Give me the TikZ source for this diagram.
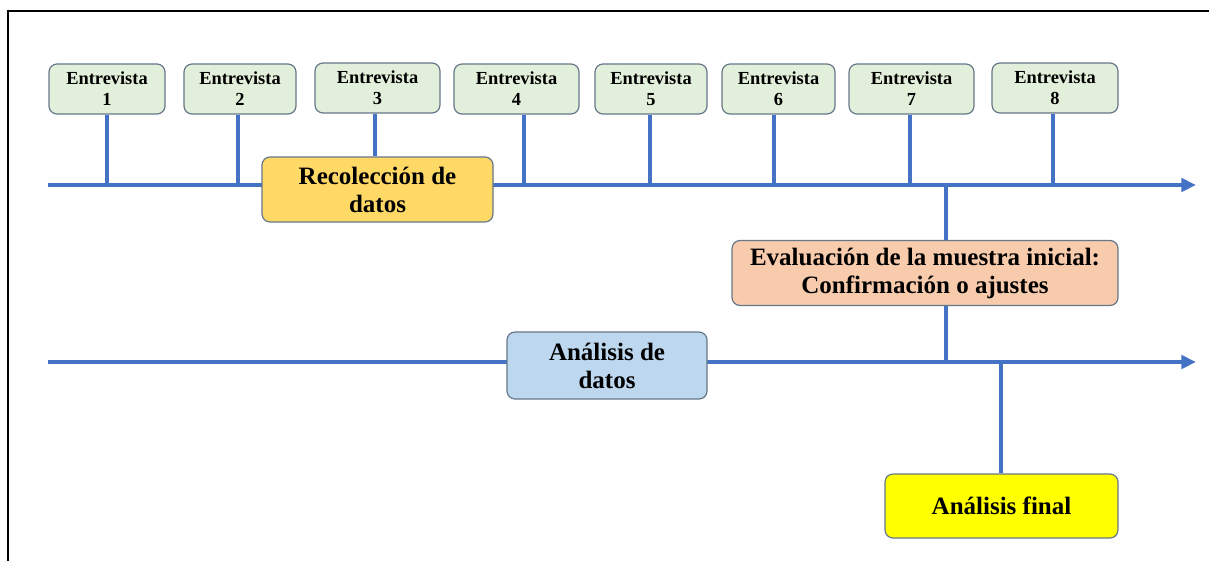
\documentclass[tikz,border=0pt]{standalone}
\usepackage{fontspec}
\setmainfont{Liberation Serif}[BoldFont={Liberation Serif Bold}]
\usetikzlibrary{arrows.meta}
\definecolor{lineblue}{HTML}{4472C4}
\definecolor{boxgray}{HTML}{66778A}
\definecolor{entgreen}{HTML}{E2EFDA}
\definecolor{recgold}{HTML}{FFD966}
\definecolor{evapeach}{HTML}{F8CBAD}
\definecolor{anablue}{HTML}{BDD7EE}
\definecolor{finyellow}{HTML}{FFFF00}

\begin{document}
\begin{tikzpicture}[x=0.75pt,y=-0.75pt,>={Triangle[length=11pt,width=10pt]},
  time line/.style={draw=lineblue,line width=3pt},
  base node/.style={rectangle,rounded corners=6pt,draw=boxgray,line width=0.9pt,align=center,inner sep=0pt},
  entrevista node/.style={base node,fill=entgreen,minimum height=37.5pt,font=\fontsize{13.8}{15.75}\selectfont\bfseries},
  fase node/.style={base node,minimum height=48.75pt,font=\fontsize{18.75}{21}\selectfont\bfseries}]

  \useasboundingbox (0,0) rectangle (1209,561);
  \draw[line width=1.5pt] (8,561) -- (8,11) -- (1209,11);

  % puntos sobre las lineas de tiempo
  \coordinate (a1) at (48,185);
  \coordinate (b1) at (1196,185);
  \coordinate (a2) at (48,362);
  \coordinate (b2) at (1196,362);
  \coordinate (t1) at (107,185);
  \coordinate (t2) at (238,185);
  \coordinate (t3) at (375,185);
  \coordinate (t4) at (524,185);
  \coordinate (t5) at (650,185);
  \coordinate (t6) at (774,185);
  \coordinate (t7) at (910,185);
  \coordinate (t8) at (1053,185);
  \coordinate (j1) at (946,185);
  \coordinate (j2) at (946,362);
  \coordinate (j3) at (1001,362);

  \draw[time line,->] (a1) -- (b1);
  \draw[time line,->] (a2) -- (b2);

  \node[entrevista node,minimum width=87pt]    (e1) at (107,89)   {Entrevista\\1};
  \node[entrevista node,minimum width=84pt]    (e2) at (240,89)   {Entrevista\\2};
  \node[entrevista node,minimum width=93.75pt] (e3) at (377.5,88) {Entrevista\\3};
  \node[entrevista node,minimum width=93.75pt] (e4) at (516.5,89) {Entrevista\\4};
  \node[entrevista node,minimum width=84pt]    (e5) at (651,89)   {Entrevista\\5};
  \node[entrevista node,minimum width=84.75pt] (e6) at (778.5,89) {Entrevista\\6};
  \node[entrevista node,minimum width=93.75pt] (e7) at (911.5,89) {Entrevista\\7};
  \node[entrevista node,minimum width=94.5pt]  (e8) at (1055,88)  {Entrevista\\8};

  \node[fase node,fill=recgold,minimum width=173.25pt]  (rec) at (377.5,189.5) {Recolección de\\datos};
  \node[fase node,fill=evapeach,minimum width=289.5pt]  (eva) at (925,273)     {Evaluación de la muestra inicial:\\Confirmación o ajustes};
  \node[fase node,fill=anablue,minimum width=150pt,minimum height=50.25pt] (ana) at (607,365.5) {Análisis de\\datos};
  \node[fase node,fill=finyellow,minimum width=174.75pt,minimum height=48pt] (fin) at (1001.5,506) {Análisis final};

  \path[time line]
    (e1.south -| t1) edge (t1)
    (e2.south -| t2) edge (t2)
    (e3.south -| t3) edge (rec.north -| t3)
    (e4.south -| t4) edge (t4)
    (e5.south -| t5) edge (t5)
    (e6.south -| t6) edge (t6)
    (e7.south -| t7) edge (t7)
    (e8.south -| t8) edge (t8)
    (j1) edge (eva.north -| j1)
    (eva.south -| j2) edge (j2)
    (j3) edge (fin.north -| j3);

\end{tikzpicture}
\end{document}
